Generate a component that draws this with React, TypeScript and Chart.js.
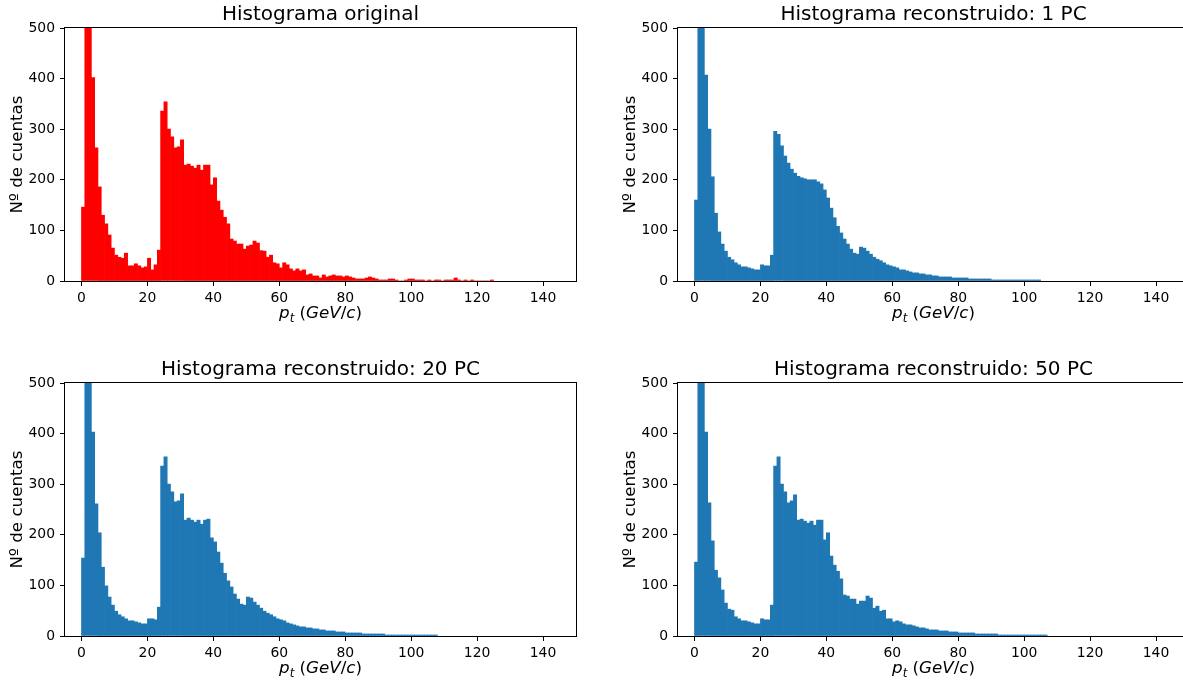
import React, { useEffect, useRef } from 'react';
import { Chart, registerables } from 'chart.js';

Chart.register(...registerables);

// Histogram bins: width 1 GeV/c, starting at 0
const xTicks = [0, 20, 40, 60, 80, 100, 120, 140];
const yTicks = [0, 100, 200, 300, 400, 500];

const titles = [
  'Histograma original',
  'Histograma reconstruido: 1 PC',
  'Histograma reconstruido: 20 PC',
  'Histograma reconstruido: 50 PC',
];

const originalCounts = [
  146, 680, 560, 402, 263, 186, 130, 113, 91, 65,
  51, 47, 45, 55, 30, 30, 34, 30, 26, 28,
  45, 22, 32, 61, 336, 354, 300, 285, 263, 265,
  279, 229, 231, 227, 223, 229, 219, 229, 229, 190,
  204, 158, 140, 126, 113, 83, 79, 73, 73, 63,
  69, 71, 79, 75, 60, 59, 47, 51, 36, 34,
  26, 36, 32, 24, 20, 24, 20, 22, 12, 14,
  10, 10, 6, 12, 8, 10, 12, 10, 10, 8,
  10, 8, 6, 4, 4, 4, 6, 8, 6, 4,
  2, 2, 2, 4, 4, 2, 0, 0, 2, 4,
  4, 2, 2, 2, 0, 2, 0, 2, 2, 0,
  2, 2, 2, 6, 2, 0, 2, 0, 2, 0,
  0, 0, 0, 0, 2,
];

const pc1Counts = [
  160, 720, 560, 407, 300, 206, 134, 97, 73, 59,
  47, 42, 36, 32, 28, 28, 26, 24, 22, 22,
  32, 30, 30, 51, 296, 290, 267, 247, 233, 221,
  213, 207, 204, 202, 200, 200, 200, 196, 192, 180,
  164, 144, 125, 108, 95, 83, 73, 63, 55, 53,
  67, 65, 59, 53, 47, 43, 40, 36, 32, 30,
  28, 26, 22, 22, 20, 18, 16, 16, 14, 14,
  12, 12, 10, 10, 8, 8, 8, 8, 6, 6,
  6, 6, 6, 4, 4, 4, 4, 4, 4, 4,
  2, 2, 2, 2, 2, 2, 2, 2, 2, 2,
  2, 2, 2, 2, 2,
];

const pc20Counts = [
  154, 700, 560, 403, 261, 204, 136, 99, 77, 61,
  49, 42, 38, 34, 30, 30, 28, 26, 24, 24,
  34, 34, 32, 57, 336, 354, 300, 285, 265, 267,
  281, 229, 233, 229, 225, 229, 221, 229, 231, 194,
  186, 166, 144, 124, 109, 97, 83, 73, 63, 61,
  77, 75, 67, 61, 55, 49, 45, 42, 38, 34,
  32, 30, 26, 24, 22, 20, 18, 18, 16, 16,
  14, 14, 12, 12, 10, 10, 10, 8, 8, 8,
  6, 6, 6, 6, 6, 4, 4, 4, 4, 4,
  4, 4, 2, 2, 2, 2, 2, 2, 2, 2,
  2, 2, 2, 2, 2, 2, 2, 2,
];

const pc50Counts = [
  146, 700, 560, 403, 263, 188, 130, 115, 91, 65,
  53, 51, 38, 34, 30, 30, 28, 26, 24, 24,
  34, 32, 32, 61, 336, 354, 300, 285, 263, 267,
  279, 229, 231, 227, 223, 227, 219, 229, 229, 190,
  204, 158, 140, 128, 113, 81, 79, 73, 73, 63,
  69, 69, 79, 75, 55, 59, 49, 51, 34, 34,
  28, 30, 28, 24, 22, 22, 20, 18, 16, 16,
  14, 12, 12, 12, 10, 10, 10, 8, 8, 8,
  6, 6, 6, 6, 6, 4, 4, 4, 4, 4,
  4, 4, 2, 2, 2, 2, 2, 2, 2, 2,
  2, 2, 2, 2, 2, 2, 2,
];

const seriesCounts = [originalCounts, pc1Counts, pc20Counts, pc50Counts];
const seriesColors = ['#ff0000', '#1f77b4', '#1f77b4', '#1f77b4'];

const FONT = '"DejaVu Sans", "Liberation Sans", sans-serif';

// layout of the four panels (axes area top-left corner in page pixels)
const panelPos = [
  { left: 65, top: 28 },
  { left: 678, top: 28 },
  { left: 65, top: 383 },
  { left: 678, top: 383 },
];
const AREA_W = 511;
const AREA_H = 253;
const PAD_LEFT = 65;
const PAD_TOP = 28;
const PAD_BOTTOM = 50;
const PAD_RIGHT = 10;

const decorPlugin = {
  id: 'decor',
  afterDraw(chart: any) {
    const { ctx, chartArea: a } = chart;
    const title = chart.options.plugins.decor.title;
    ctx.save();
    // frame
    ctx.strokeStyle = '#000';
    ctx.lineWidth = 1;
    ctx.strokeRect(a.left - 0.5, a.top - 0.5, a.right - a.left + 1, a.bottom - a.top + 1);
    // title
    ctx.fillStyle = '#000';
    ctx.font = `20px ${FONT}`;
    ctx.textAlign = 'center';
    ctx.textBaseline = 'alphabetic';
    ctx.fillText(title, (a.left + a.right) / 2, a.top - 8);
    // y label
    ctx.save();
    ctx.translate(a.left - 47, (a.top + a.bottom) / 2);
    ctx.rotate(-Math.PI / 2);
    ctx.font = `16.7px ${FONT}`;
    ctx.textAlign = 'center';
    ctx.textBaseline = 'middle';
    ctx.fillText('Nº de cuentas', 0, 0);
    ctx.restore();
    // x label: p_t (GeV/c) in math style
    const size = 16.7;
    const parts = [
      { t: 'p', it: true, sub: false },
      { t: 't', it: true, sub: true },
      { t: ' ', it: false, sub: false },
      { t: '(', it: false, sub: false },
      { t: 'GeV', it: true, sub: false },
      { t: '/', it: false, sub: false },
      { t: 'c', it: true, sub: false },
      { t: ')', it: false, sub: false },
    ];
    const fontFor = (p: any) => `${p.it ? 'italic ' : ''}${p.sub ? size * 0.7 : size}px ${FONT}`;
    let total = 0;
    const widths = parts.map((p) => {
      ctx.font = fontFor(p);
      const w = ctx.measureText(p.t).width;
      total += w;
      return w;
    });
    let x = (a.left + a.right) / 2 - total / 2;
    const base = a.bottom + 37;
    ctx.textAlign = 'left';
    ctx.textBaseline = 'alphabetic';
    parts.forEach((p, i) => {
      ctx.font = fontFor(p);
      ctx.fillText(p.t, x, p.sub ? base + size * 0.22 : base);
      x += widths[i];
    });
    ctx.restore();
  },
};

function Panel({ index }: { index: number }) {
  const ref = useRef<HTMLCanvasElement>(null);
  useEffect(() => {
    if (!ref.current) return;
    const counts = seriesCounts[index];
    const data = counts.map((v, i) => ({ x: i + 0.5, y: v }));
    const chart = new Chart(ref.current, {
      type: 'bar',
      data: {
        datasets: [
          {
            data,
            backgroundColor: seriesColors[index],
            borderWidth: 0,
            barPercentage: 1,
            categoryPercentage: 1,
            clip: 0,
          } as any,
        ],
      },
      plugins: [decorPlugin],
      options: {
        responsive: false,
        animation: false,
        devicePixelRatio: 1,
        layout: { padding: { top: PAD_TOP, right: PAD_RIGHT, left: 0, bottom: 0 } },
        plugins: {
          legend: { display: false },
          tooltip: { enabled: false },
          decor: { title: titles[index] },
        } as any,
        scales: {
          x: {
            type: 'linear',
            min: -5,
            max: 150,
            offset: false,
            grid: {
              offset: false,
              drawOnChartArea: false,
              drawTicks: true,
              tickLength: 5,
              color: '#000',
              lineWidth: 1,
            },
            border: { display: false },
            ticks: {
              color: '#000',
              font: { family: FONT, size: 13.9 },
              padding: 4,
              maxRotation: 0,
              autoSkip: false,
            },
            afterBuildTicks: (s: any) => {
              s.ticks = xTicks.map((v) => ({ value: v }));
            },
            afterFit: (s: any) => {
              s.height = PAD_BOTTOM;
            },
          },
          y: {
            type: 'linear',
            min: 0,
            max: 500,
            grid: {
              offset: false,
              drawOnChartArea: false,
              drawTicks: true,
              tickLength: 5,
              color: '#000',
              lineWidth: 1,
            },
            border: { display: false },
            ticks: {
              color: '#000',
              font: { family: FONT, size: 13.9 },
              padding: 5,
              autoSkip: false,
            },
            afterBuildTicks: (s: any) => {
              s.ticks = yTicks.map((v) => ({ value: v }));
            },
            afterFit: (s: any) => {
              s.width = PAD_LEFT;
            },
          },
        },
      } as any,
    });
    return () => chart.destroy();
  }, [index]);
  const pos = panelPos[index];
  const w = PAD_LEFT + AREA_W + PAD_RIGHT;
  const h = PAD_TOP + AREA_H + PAD_BOTTOM;
  return (
    <canvas
      ref={ref}
      width={w}
      height={h}
      style={{ position: 'absolute', left: pos.left - PAD_LEFT, top: pos.top - PAD_TOP, width: w, height: h }}
    />
  );
}

export default function App() {
  return (
    <div
      style={{
        position: 'fixed',
        left: 0,
        top: 0,
        width: 1183,
        height: 684,
        background: '#fff',
        overflow: 'hidden',
      }}
    >
      {[0, 1, 2, 3].map((i) => (
        <Panel key={i} index={i} />
      ))}
    </div>
  );
}
